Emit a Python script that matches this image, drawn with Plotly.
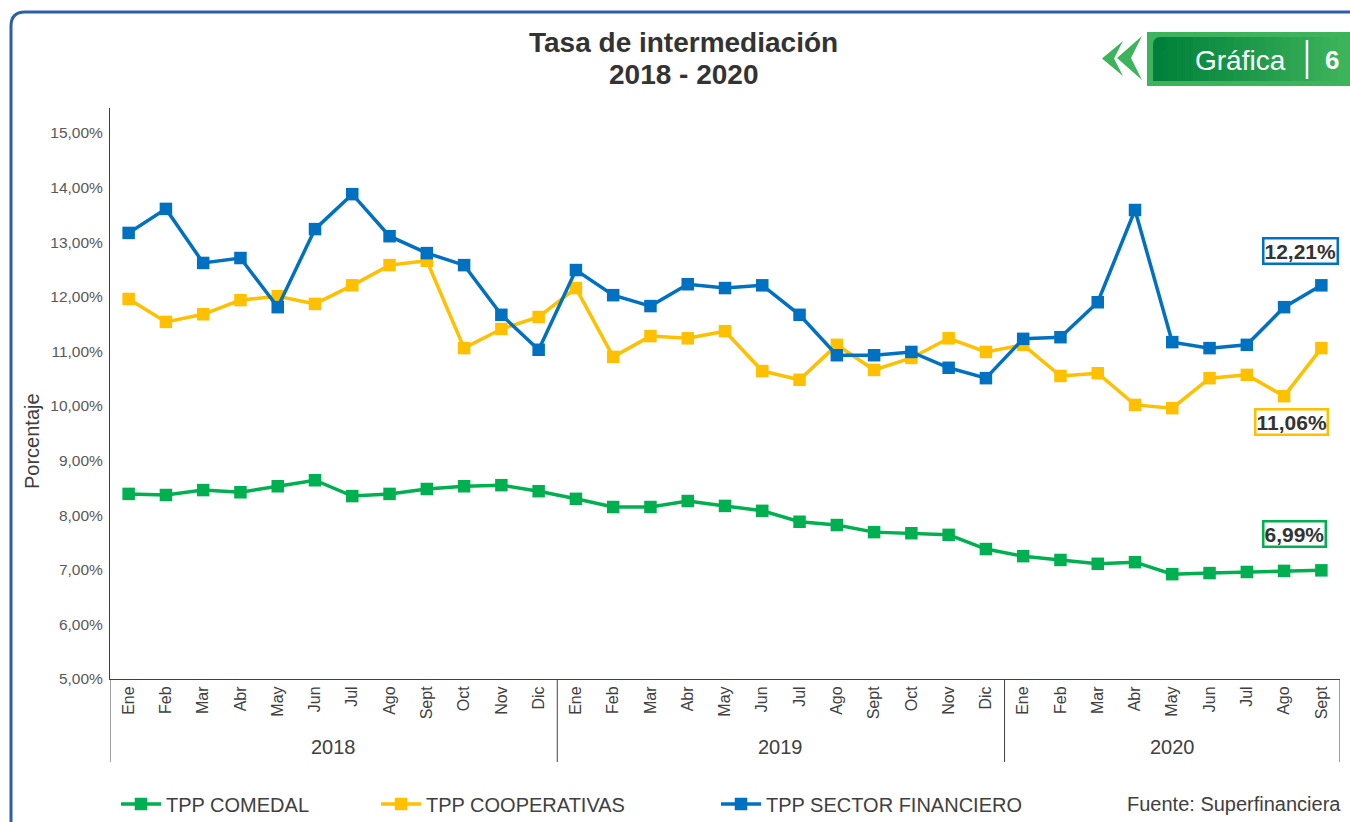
import plotly.graph_objects as go

months = ["Ene", "Feb", "Mar", "Abr", "May", "Jun", "Jul", "Ago", "Sept", "Oct", "Nov", "Dic",
          "Ene", "Feb", "Mar", "Abr", "May", "Jun", "Jul", "Ago", "Sept", "Oct", "Nov", "Dic",
          "Ene", "Feb", "Mar", "Abr", "May", "Jun", "Jul", "Ago", "Sept"]
years = ["2018", "2019", "2020"]
year_centers = [5.5, 17.5, 28.0]
year_dividers = [-0.5, 11.5, 23.5, 32.5]

comedal = [8.39, 8.37, 8.46, 8.42, 8.53, 8.64, 8.35, 8.39, 8.48, 8.53, 8.55, 8.44,
           8.30, 8.15, 8.15, 8.26, 8.17, 8.08, 7.88, 7.82, 7.69, 7.67, 7.64, 7.38,
           7.25, 7.18, 7.11, 7.14, 6.92, 6.94, 6.96, 6.98, 6.99]
cooperativas = [11.96, 11.54, 11.68, 11.94, 12.01, 11.87, 12.21, 12.58, 12.66, 11.06, 11.41, 11.63,
                12.16, 10.90, 11.28, 11.24, 11.37, 10.64, 10.48, 11.12, 10.66, 10.88, 11.24, 10.99,
                11.12, 10.55, 10.60, 10.02, 9.96, 10.51, 10.57, 10.18, 11.06]
sector = [13.17, 13.61, 12.62, 12.71, 11.81, 13.24, 13.88, 13.11, 12.80, 12.58, 11.67, 11.03,
          12.49, 12.03, 11.83, 12.23, 12.16, 12.21, 11.67, 10.93, 10.93, 10.99, 10.70, 10.51,
          11.23, 11.26, 11.90, 13.59, 11.17, 11.06, 11.12, 11.81, 12.21]

series_names = ["TPP COMEDAL", "TPP COOPERATIVAS", "TPP SECTOR FINANCIERO"]
series_colors = ["#00B050", "#FFC000", "#0070C0"]
end_labels = ["6,99%", "11,06%", "12,21%"]

ytick_vals = [5, 6, 7, 8, 9, 10, 11, 12, 13, 14, 15]
ytick_text = ["5,00%", "6,00%", "7,00%", "8,00%", "9,00%", "10,00%", "11,00%",
              "12,00%", "13,00%", "14,00%", "15,00%"]

# pixel helpers (plot area: x 110..1340, y 108..679)
W, H = 1350, 822
L, R, T, B = 110, 1340, 108, 679
def px(x):
    return (x - L) / (R - L)
def py(y):
    return (B - y) / (B - T)

FONT = "Liberation Sans, Arial, sans-serif"
xs = list(range(len(months)))

fig = go.Figure()
all_series = [comedal, cooperativas, sector]
legend_ids = ["legend", "legend2", "legend3"]
for vals, name, col, lg in zip(all_series, series_names, series_colors, legend_ids):
    fig.add_trace(go.Scatter(
        x=xs, y=vals, name=name, mode="lines+markers",
        line=dict(color=col, width=3.5),
        marker=dict(symbol="square", size=12.5, color=col),
        legend=lg,
    ))

shapes = []
annotations = []

def note(x, y, text, size, color="#404040", **kw):
    d = dict(x=px(x), y=py(y), xref="paper", yref="paper", text=text, showarrow=False,
             xanchor="center", yanchor="middle",
             font=dict(family=FONT, size=size, color=color))
    d.update(kw)
    annotations.append(d)

# end labels
shifts = [(-27, 36), (-30, -74), (-21, 34)]
for vals, lab, col, (dx, dy) in zip(all_series, end_labels, series_colors, shifts):
    annotations.append(dict(
        x=xs[-1], y=vals[-1], xref="x", yref="y", text="<b>" + lab + "</b>",
        showarrow=False, xshift=dx, yshift=dy, xanchor="center", yanchor="middle",
        font=dict(family=FONT, size=21, color="#333333"),
        bordercolor=col, borderwidth=2.5, borderpad=0, bgcolor="white",
    ))

# year dividers
for d in year_dividers:
    shapes.append(dict(type="line", xref="x", yref="paper", x0=d, x1=d,
                       y0=0, y1=py(762), line=dict(color="#404040", width=1)))
for yc, yr in zip(year_centers, years):
    annotations.append(dict(x=yc, y=py(747), xref="x", yref="paper", text=yr,
                            xanchor="center", yanchor="middle",
                            showarrow=False, font=dict(family=FONT, size=20, color="#404040")))

# y title
note(32, 441, "Porcentaje", 20, textangle=-90)

# title
note(683, 43, "<b>Tasa de intermediación</b>", 28, color="#333333")
note(683, 75, "<b>2018 - 2020</b>", 28, color="#333333")

# source
note(1343, 804, "Fuente: Superfinanciera", 20, xanchor="right")

# frame
frame_path = "M {a},{b} L {a},{c} Q {a},{d} {e},{d} L {f},{d}".format(
    a=px(11), b=py(830), c=py(26), d=py(12), e=px(25), f=px(1355))
shapes.append(dict(type="path", xref="paper", yref="paper", path=frame_path,
                   line=dict(color="#2E5DAA", width=3)))

# badge
shapes.append(dict(type="rect", xref="paper", yref="paper", x0=px(1147), x1=px(1352),
                   y0=py(86), y1=py(32), fillcolor="#3DB35B", line=dict(width=0)))
n = 24
c0 = (0, 128, 58)
c1 = (61, 179, 91)
x_start, x_end = 1153, 1346
for i in range(n):
    t = i / (n - 1)
    col = "rgb({},{},{})".format(*[int(c0[k] + (c1[k] - c0[k]) * t) for k in range(3)])
    xa = x_start + (x_end - x_start) * i / n
    xb = x_start + (x_end - x_start) * (i + 1) / n + 0.5
    ytop = 37 if i > 0 else 44
    shapes.append(dict(type="rect", xref="paper", yref="paper", x0=px(xa), x1=px(xb),
                       y0=py(81), y1=py(ytop), fillcolor=col, line=dict(width=0)))
shapes.append(dict(type="circle", xref="paper", yref="paper", x0=px(1153), x1=px(1167),
                   y0=py(51), y1=py(37), fillcolor="rgb(0,128,58)", line=dict(width=0)))
shapes.append(dict(type="line", xref="paper", yref="paper", x0=px(1307), x1=px(1307),
                   y0=py(79), y1=py(40), line=dict(color="white", width=2.5)))
note(1240, 60, "Gráfica", 28, color="white")
note(1332, 60, "<b>6</b>", 26, color="white")
# chevrons
for (xr, xt, xn, ya, yb) in [(1123, 1102, 1114, 41, 76), (1142, 1117, 1131, 36, 80)]:
    ym = (ya + yb) / 2
    p = "M {},{} L {},{} L {},{} L {},{} Z".format(px(xr), py(ya), px(xt), py(ym),
                                                  px(xr), py(yb), px(xn), py(ym))
    shapes.append(dict(type="path", xref="paper", yref="paper", path=p,
                       fillcolor="#3DB35B", line=dict(width=0)))

legend_common = dict(orientation="h", yanchor="middle", xanchor="left",
                     xref="container", yref="container", itemwidth=40,
                     font=dict(family=FONT, size=20, color="#404040"),
                     bgcolor="rgba(0,0,0,0)")
ly = 1 - 804 / H
fig.update_layout(
    width=W, height=H,
    margin=dict(l=L, r=W - R, t=T, b=H - B, autoexpand=False),
    paper_bgcolor="white", plot_bgcolor="white",
    font=dict(family=FONT),
    showlegend=True,
    legend=dict(x=116 / W, y=ly, **legend_common),
    legend2=dict(x=376 / W, y=ly, **legend_common),
    legend3=dict(x=716 / W, y=ly, **legend_common),
    xaxis=dict(range=[-0.5, 32.5], tickvals=xs, ticktext=months, tickangle=-90,
               showgrid=False, zeroline=False, showline=True, linecolor="#404040",
               linewidth=1, ticks="", tickfont=dict(family=FONT, size=16, color="#404040")),
    yaxis=dict(range=[5, 15 + (133 - T) / 54.6], tickvals=ytick_vals, ticktext=ytick_text,
               showgrid=False, zeroline=False, showline=True, linecolor="#404040",
               linewidth=1, ticks="", ticklabelstandoff=3,
               tickfont=dict(family=FONT, size=15.5, color="#595959")),
    shapes=shapes,
    annotations=annotations,
)

fig.write_html("out.html", config={"displayModeBar": False},
               post_script="document.body.style.margin='0';document.body.style.overflow='hidden';")
